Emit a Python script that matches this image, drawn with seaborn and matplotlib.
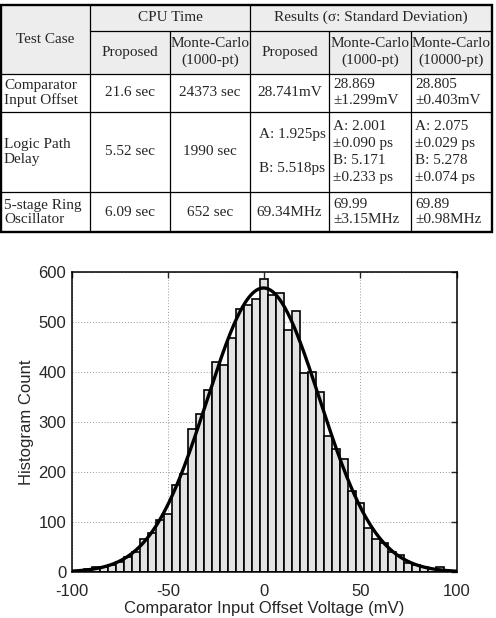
import numpy as np
import pandas as pd
import matplotlib
matplotlib.use("Agg")
import matplotlib.pyplot as plt
import seaborn as sns
from matplotlib.patches import Rectangle

# ---- table content ----
header_top = ["Test Case", "CPU Time", "Results (\u03c3: Standard Deviation)"]
header_sub = ["Proposed", "Monte-Carlo\n(1000-pt)", "Proposed",
              "Monte-Carlo\n(1000-pt)", "Monte-Carlo\n(10000-pt)"]
row_names = ["Comparator\nInput Offset", "Logic Path\nDelay", "5-stage Ring\nOscillator"]
cpu_proposed = ["21.6 sec", "5.52 sec", "6.09 sec"]
cpu_mc = ["24373 sec", "1990 sec", "652 sec"]
res_proposed = ["28.741mV", ["A: 1.925ps", "B: 5.518ps"], "69.34MHz"]
res_mc1000 = [["28.869", "\u00b11.299mV"],
              ["A: 2.001", "\u00b10.090 ps", "B: 5.171", "\u00b10.233 ps"],
              ["69.99", "\u00b13.15MHz"]]
res_mc10000 = [["28.805", "\u00b10.403mV"],
               ["A: 2.075", "\u00b10.029 ps", "B: 5.278", "\u00b10.074 ps"],
               ["69.89", "\u00b10.98MHz"]]

# ---- histogram content (bin index k, bin centre = k * width) ----
bin_width = 4.16
bin_index = np.arange(-23, 24)
counts = [3, 6, 11, 11, 15, 21, 31, 41, 67, 79, 104, 116, 174, 197, 287, 317,
          364, 420, 414, 469, 526, 534, 547,
          587,
          554, 559, 485, 522, 399, 401, 361, 273, 246, 226, 163, 139, 89, 66,
          58, 40, 35, 19, 14, 10, 6, 11, 3]
x_ticks = [-100, -50, 0, 50, 100]
y_ticks = [0, 100, 200, 300, 400, 500, 600]

SERIF = ["Liberation Serif", "DejaVu Serif"]
SANS = ["Liberation Sans", "DejaVu Sans"]


def draw_table(ax):
    col_x = [1, 90, 170, 250, 329, 411, 492]
    row_y = [4.7, 30.7, 74, 111.5, 192.3, 232]
    fs = 11

    # header background
    ax.add_patch(Rectangle((col_x[0], row_y[0]), col_x[-1] - col_x[0],
                           row_y[2] - row_y[0], facecolor="#ededed",
                           edgecolor="none", zorder=0))

    # inner lines
    for y in row_y[2:-1]:
        ax.plot([col_x[0], col_x[-1]], [y, y], color="k", lw=0.9)
    ax.plot([col_x[1], col_x[-1]], [row_y[1], row_y[1]], color="k", lw=0.9)
    for i, x in enumerate(col_x[1:-1], start=1):
        top = row_y[0] if i in (1, 3) else row_y[1]
        ax.plot([x, x], [top, row_y[-1]], color="k", lw=0.9)
    # outer border
    ax.add_patch(Rectangle((col_x[0], row_y[0]), col_x[-1] - col_x[0],
                           row_y[-1] - row_y[0], facecolor="none",
                           edgecolor="k", lw=1.7, zorder=3))

    kw = dict(fontsize=fs, family=SERIF, va="center")
    ax.text((col_x[0] + col_x[1]) / 2, (row_y[0] + row_y[2]) / 2, header_top[0], ha="center", **kw)
    ax.text((col_x[1] + col_x[3]) / 2, (row_y[0] + row_y[1]) / 2, header_top[1], ha="center", **kw)
    ax.text((col_x[3] + col_x[6]) / 2, (row_y[0] + row_y[1]) / 2, header_top[2], ha="center", **kw)
    for j, lab in enumerate(header_sub):
        ax.text((col_x[j + 1] + col_x[j + 2]) / 2, (row_y[1] + row_y[2]) / 2,
                lab, ha="center", linespacing=1.35, **kw)

    for r in range(3):
        y0, y1 = row_y[r + 2], row_y[r + 3]
        yc = (y0 + y1) / 2
        ax.text(col_x[0] + 3, yc, row_names[r], ha="left", linespacing=1.12, **kw)
        ax.text((col_x[1] + col_x[2]) / 2, yc, cpu_proposed[r], ha="center", **kw)
        ax.text((col_x[2] + col_x[3]) / 2, yc, cpu_mc[r], ha="center", **kw)
        if isinstance(res_proposed[r], list):
            ax.text(col_x[3] + 9, yc - 17, res_proposed[r][0], ha="left", **kw)
            ax.text(col_x[3] + 9, yc + 17, res_proposed[r][1], ha="left", **kw)
        else:
            ax.text((col_x[3] + col_x[4]) / 2, yc, res_proposed[r], ha="center", **kw)
        for col, vals in ((4, res_mc1000[r]), (5, res_mc10000[r])):
            n = len(vals)
            step = 17.2 if n > 2 else 15.5
            for k, v in enumerate(vals):
                ax.text(col_x[col] + 4, yc + (k - (n - 1) / 2) * step, v, ha="left", **kw)


def draw_hist(ax):
    centers = bin_index * bin_width
    lo = centers[0] - bin_width / 2
    hi = centers[-1] + bin_width / 2
    df = pd.DataFrame({"offset": centers, "count": counts})

    sns.histplot(data=df, x="offset", weights="count", binwidth=bin_width,
                 binrange=(lo, hi), color="#e3e3e3", edgecolor="black",
                 linewidth=1.2, alpha=1, ax=ax, zorder=2)

    # gaussian fit from the histogram counts
    c = np.asarray(counts, float)
    n_tot = c.sum()
    mu = (c * centers).sum() / n_tot
    sigma = np.sqrt((c * (centers - mu) ** 2).sum() / n_tot)
    xs = np.linspace(-100, 100, 400)
    fit = n_tot * bin_width / (sigma * np.sqrt(2 * np.pi)) * np.exp(-0.5 * ((xs - mu) / sigma) ** 2)
    sns.lineplot(x=xs, y=fit, color="black", lw=2.4, ax=ax, zorder=3)

    ax.set_xlim(-100, 100)
    ax.set_ylim(0, 600)
    ax.set_xticks(x_ticks)
    ax.set_yticks(y_ticks)
    ax.grid(True, linestyle=(0, (1, 2)), color="0.6", lw=0.7, zorder=0)
    ax.set_axisbelow(True)
    ax.tick_params(direction="in", top=True, right=True, length=4, width=1,
                   labelsize=12)
    ax.tick_params(axis="x", pad=9)
    ax.tick_params(axis="y", pad=4)
    for lab in ax.get_xticklabels() + ax.get_yticklabels():
        lab.set_family(SANS)
    for sp in ax.spines.values():
        sp.set_visible(True)
        sp.set_linewidth(1.1)
        sp.set_color("black")
        sp.set_zorder(5)
    ax.set_xlabel("Comparator Input Offset Voltage (mV)", fontsize=12, family=SANS, labelpad=1)
    ax.set_ylabel("Histogram Count", fontsize=12, family=SANS, labelpad=3)


def main():
    sns.set_style("white")
    plt.rcParams["axes.unicode_minus"] = False
    fig = plt.figure(figsize=(4.96, 6.18), dpi=100)

    ax_tab = fig.add_axes([0, 0, 1, 1])
    ax_tab.set_xlim(0, 496)
    ax_tab.set_ylim(618, 0)
    ax_tab.axis("off")
    draw_table(ax_tab)

    ax = fig.add_axes([71.7 / 496, 46 / 618, 385 / 496, 300 / 618])
    draw_hist(ax)

    fig.savefig("out.png", dpi=100)
    plt.close(fig)


if __name__ == "__main__":
    main()
